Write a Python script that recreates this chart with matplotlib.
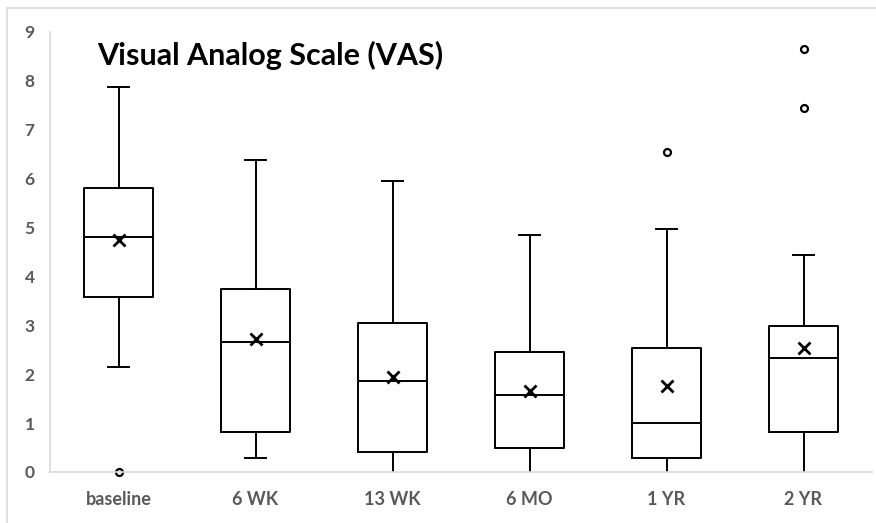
import matplotlib
matplotlib.use("Agg")
import matplotlib.pyplot as plt
from matplotlib.lines import Line2D

plt.rcParams["font.family"] = ["Lato", "DejaVu Sans"]

# Werte (VAS je Zeitpunkt)
categories = ["baseline", "6 WK", "13 WK", "6 MO", "1 YR", "2 YR"]
whisker_low = [2.15, 0.29, 0.0, 0.0, 0.0, 0.0]
q1 = [3.58, 0.82, 0.41, 0.49, 0.29, 0.82]
median = [4.80, 2.66, 1.86, 1.57, 1.00, 2.33]
q3 = [5.81, 3.74, 3.05, 2.45, 2.54, 2.99]
whisker_high = [7.88, 6.38, 5.95, 4.85, 4.97, 4.44]
means = [4.74, 2.72, 1.94, 1.66, 1.76, 2.54]
outliers = [[0.0], [], [], [], [6.54], [8.65, 7.44]]

stats = []
for i, name in enumerate(categories):
    stats.append({
        "label": name,
        "whislo": whisker_low[i],
        "q1": q1[i],
        "med": median[i],
        "q3": q3[i],
        "whishi": whisker_high[i],
        "mean": means[i],
        "fliers": outliers[i],
    })

fig = plt.figure(figsize=(8.76, 5.23), dpi=100)
ax = fig.add_axes([50 / 876, 1 - 472 / 523, 822 / 876, 440 / 523])

line_kw = dict(color="black", linewidth=1.4)
res = ax.bxp(
    stats,
    positions=range(len(categories)),
    widths=0.5,
    capwidths=0.15,
    showmeans=True,
    boxprops=line_kw,
    whiskerprops=line_kw,
    capprops=line_kw,
    medianprops=line_kw,
    meanprops=dict(marker="x", markersize=8, markeredgewidth=2.0,
                   markeredgecolor="black"),
    flierprops=dict(marker="o", markersize=5, markeredgewidth=1.6,
                    markerfacecolor="white", markeredgecolor="black"),
)

# Kappen bei 0 sind im Original von der Achse verdeckt
for cap in res["caps"]:
    if cap.get_ydata()[0] == 0:
        cap.set_visible(False)
for fl in res["fliers"]:
    fl.set_clip_on(False)

ax.set_xlim(-0.5, len(categories) - 0.5)
ax.set_ylim(0, 9)
ax.set_yticks(range(0, 10))
ax.set_xticks(range(len(categories)))
ax.set_xticklabels(categories)

for s in ["top", "right"]:
    ax.spines[s].set_visible(False)
for s in ["left", "bottom"]:
    ax.spines[s].set_color("#d9d9d9")
    ax.spines[s].set_linewidth(1.2)
    ax.spines[s].set_zorder(5)

ax.tick_params(axis="y", length=0, pad=11, labelsize=12.5, labelcolor="#595959")
ax.tick_params(axis="x", length=0, pad=14, labelsize=13, labelcolor="#595959")
for lab in ax.get_xticklabels() + ax.get_yticklabels():
    lab.set_fontweight("bold")

fig.text(97 / 876, 1 - 65 / 523, "Visual Analog Scale (VAS)",
         fontsize=22, fontweight="bold", color="black", va="baseline")

# Rahmen des Diagrammbereichs (links und oben sichtbar)
fig.add_artist(Line2D([7 / 876, 7 / 876], [0, 1 - 8 / 523],
                      transform=fig.transFigure, color="#d9d9d9", linewidth=1.2))
fig.add_artist(Line2D([7 / 876, 1], [1 - 8 / 523, 1 - 8 / 523],
                      transform=fig.transFigure, color="#d9d9d9", linewidth=1.2))

fig.savefig("out.png", dpi=100)
